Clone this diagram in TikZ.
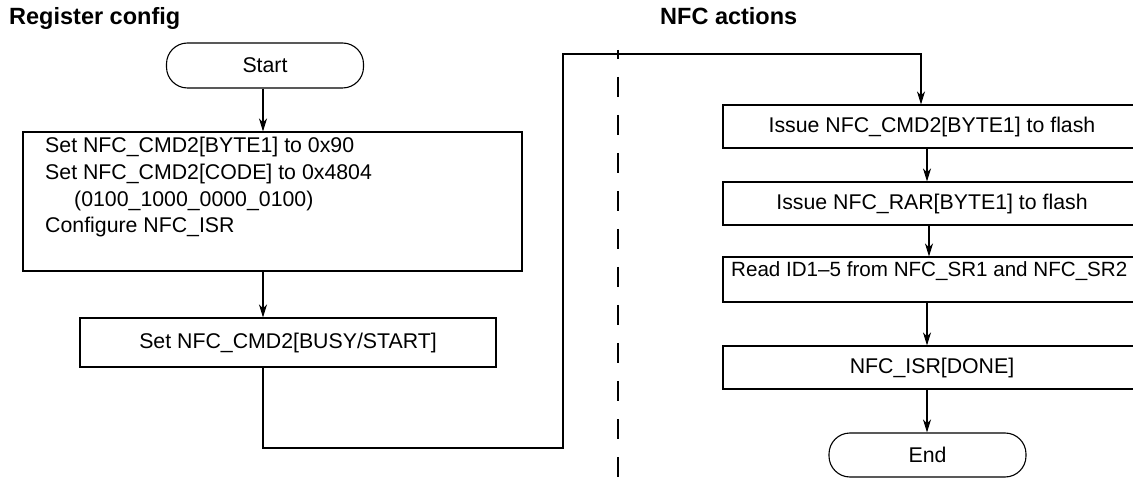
\documentclass[tikz,border=0pt]{standalone}
\usepackage{fontspec}
\setmainfont{Liberation Sans}
\usetikzlibrary{arrows.meta}
\begin{document}
\tikzset{
  txt/.style={font=\fontsize{21.3}{26.7}\selectfont},
  box/.style={draw, line width=1.1pt, inner sep=0pt, txt},
  rbox/.style={box, minimum width=418pt, minimum height=43pt},
  term/.style={draw, line width=1.1pt, rounded corners=21pt, inner sep=0pt, minimum width=197pt, minimum height=45pt, txt},
  arr/.style={line width=1.1pt, -{Stealth[length=13pt,width=8pt,inset=4pt]}},
  conn/.style={line width=1.1pt},
  title/.style={font=\bfseries\fontsize{23.5}{28}\selectfont, anchor=base west, inner sep=0pt},
  divider/.style={line width=1.1pt, dash pattern=on 20pt off 18pt, dash phase=11pt}
}
\begin{tikzpicture}[x=1pt,y=-1pt]
\useasboundingbox (0,0) rectangle (1133,478);
\clip (0,0) rectangle (1133,478);
% titles
\node[title] (t1) at (9,25) {Register config};
\node[title] (t2) at (660,25) {NFC actions};
% left column
\node[term] (start) at (265,65.5) {Start};
\node[box, minimum width=499pt, minimum height=139pt] (box1) at (272.5,201.5) {};
\node[txt, anchor=north west, align=left, inner sep=0pt] (box1txt) at (45,137)
  {Set NFC\_CMD2[BYTE1] to 0x90\\
   Set NFC\_CMD2[CODE] to 0x4804\\
   \hspace*{29pt}(0100\_1000\_0000\_0100)\\
   Configure NFC\_ISR};
\node[box, minimum width=416pt, minimum height=49pt] (box2) at (288,342.5) {Set NFC\_CMD2[BUSY/START]};
% right column
\node[rbox] (box3) at (932,126.5) {Issue NFC\_CMD2[BYTE1] to flash};
\node[rbox] (box4) at (932,203.5) {Issue NFC\_RAR[BYTE1] to flash};
\node[rbox, minimum height=45pt] (box5) at (932,279.5) {};
\node[inner sep=0pt, anchor=west, font=\fontsize{20.6}{26}\selectfont] (box5txt) at (731,271) {Read ID1--5 from NFC\_SR1 and NFC\_SR2};
\node[rbox] (box6) at (932,367.5) {NFC\_ISR[DONE]};
\node[term, minimum height=44pt] (end) at (927.5,455) {End};
% helper coordinates
\coordinate (colL) at (263,0);
\coordinate (colR) at (927,0);
\coordinate (c1) at (563,448);
\coordinate (c2) at (563,54);
\coordinate (c3) at (921,54);
% connectors
\draw[arr] (start.south -| colL) -- (box1.north -| colL);
\draw[arr] (box1.south -| colL) -- (box2.north -| colL);
\draw[arr] (box2.south -| colL) |- (c1) -- (c2) -- (c3) -- (box3.north -| c3);
\draw[arr] (box3.south -| colR) -- (box4.north -| colR);
\draw[arr] ([xshift=2pt]box4.south -| colR) -- ([xshift=2pt]box5.north -| colR);
\draw[arr] (box5.south -| colR) -- (box6.north -| colR);
\draw[arr] (box6.south -| colR) -- (end.north -| colR);
% divider
\draw[divider] (618,50) -- (618,478);
\end{tikzpicture}
\end{document}
